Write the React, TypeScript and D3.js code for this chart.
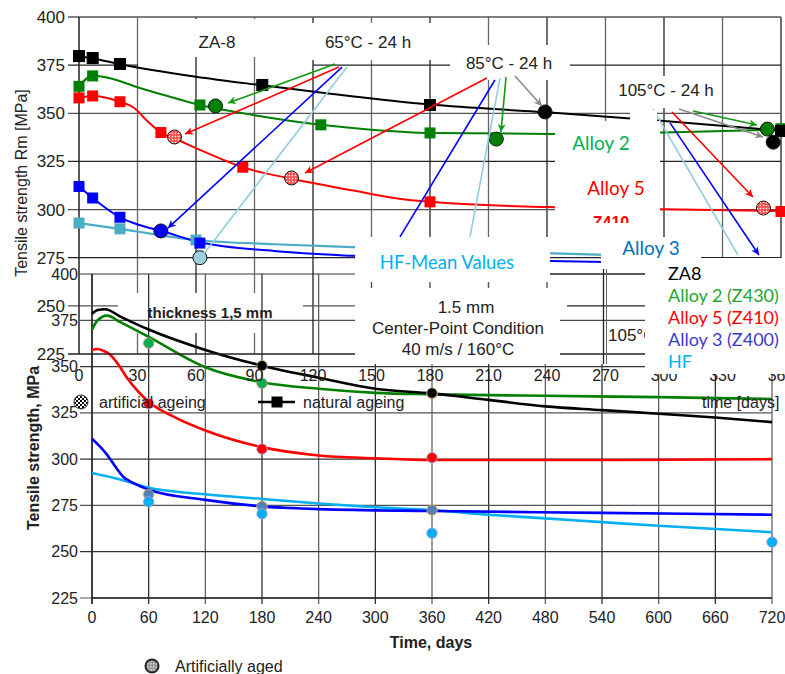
import React from 'react';
import * as d3 from 'd3';

type P = [number, number];

// ---------- Top chart (ZA-8, natural vs artificial ageing) ----------
const topXTicks = [0, 30, 60, 90, 120, 150, 180, 210, 240, 270, 300, 330, 360];
const topYTicks = [225, 250, 275, 300, 325, 350, 375, 400];

const aBlack: P[] = [[0, 379.5], [7, 378.5], [21, 375.5], [60, 369], [94, 364.5], [130, 360], [180, 354.5], [240, 350.5], [300, 346], [360, 341]];
const aGreen: P[] = [[0, 364], [7, 369.5], [35, 362], [62, 354.3], [90, 349], [124, 344], [150, 341.5], [180, 339.8], [240, 339.3], [300, 340], [360, 341.5]];
const aRed: P[] = [[0, 358], [7, 359], [21, 356], [28, 353], [35, 346], [42, 340], [50, 336.5], [62, 331], [84, 322], [109, 316], [140, 310], [165, 305.5], [180, 304], [240, 301.3], [300, 300.2], [360, 299.3]];
const aBlue: P[] = [[0, 312], [7, 306], [21, 296], [31, 292], [42, 289], [62, 283], [100, 278.5], [140, 276], [200, 274], [270, 272.8]];
const aCyan: P[] = [[0, 293], [21, 290], [60, 284.2], [100, 282], [140, 280.5], [200, 278.5], [270, 276.5]];

const aBlackSq: P[] = [[0, 379.7], [7, 378.7], [21, 375.6], [94, 364.7], [180, 354.3], [360, 340.8]];
const aGreenSq: P[] = [[0, 364], [7, 369.4], [62, 354.3], [124, 344], [180, 339.8], [360, 342]];
const aRedSq: P[] = [[0, 358], [7, 359], [21, 356], [42, 340], [84, 322], [180, 304], [360, 299]];
const aBlueSq: P[] = [[0, 312], [7, 306], [21, 296], [62, 282.6]];
const aCyanSq: P[] = [[0, 293], [21, 290], [60, 284.2]];

const aGreenCirc: P[] = [[70, 353.8], [214, 336.6], [353, 341.8]];
const aBlackCirc: P[] = [[239, 350.7], [356, 335]];
const aRedCirc: P[] = [[49, 337.7], [109, 316.4], [351, 300.8]];
const aBlueCirc: P[] = [[42, 288.9]];
const aHFCirc: P[] = [[62, 275]];

// annotation arrows (days, MPa)
const arrows: { c: string; a: P; b: P; head: boolean }[] = [
  { c: 'green', a: [131.3, 375.6], b: [76.4, 355.3], head: true },
  { c: 'red', a: [133.3, 374], b: [54.4, 339.2], head: true },
  { c: 'blue', a: [134.9, 374], b: [45.6, 290.4], head: true },
  { c: 'light', a: [137.4, 374], b: [63.6, 276.4], head: false },
  { c: 'red', a: [209.2, 368.3], b: [115.9, 319], head: true },
  { c: 'blue', a: [213.3, 367.3], b: [164.6, 285.8], head: false },
  { c: 'light', a: [215.9, 368.3], b: [200.5, 285.8], head: false },
  { c: 'green', a: [219, 368.8], b: [216.4, 340.3], head: true },
  { c: 'gray', a: [223.6, 369.4], b: [237.4, 353.8], head: true },
  { c: 'light', a: [294.4, 352.2], b: [337.9, 276.4], head: false },
  { c: 'blue', a: [303.1, 345], b: [348.7, 276.4], head: true },
  { c: 'red', a: [304.1, 350.7], b: [345.6, 306.5], head: true },
  { c: 'gray', a: [307.7, 352.2], b: [350.8, 337.7], head: true },
  { c: 'green', a: [314.9, 351.2], b: [347.7, 343.9], head: true },
];
const arrowColors: Record<string, string> = { green: '#119a11', red: '#ff0000', blue: '#0000ff', light: '#92cddc', gray: '#8c8c8c' };

// ---------- Bottom chart (Time, days 0-720) ----------
const botXTicks = [0, 60, 120, 180, 240, 300, 360, 420, 480, 540, 600, 660, 720];
const botYTicks = [225, 250, 275, 300, 325, 350, 375, 400];

const cBlack: P[] = [[0, 378.5], [6, 380.5], [14, 381], [30, 377], [60, 370], [120, 359], [180, 350.5], [240, 344], [300, 338], [360, 335.5], [420, 332], [480, 328.5], [540, 326.5], [600, 324.5], [660, 322.5], [720, 320]];
const cGreen: P[] = [[0, 370], [6, 375], [16, 377.5], [30, 374], [60, 366], [120, 349.6], [180, 341.5], [240, 338], [300, 335.8], [360, 335], [480, 334.2], [600, 333.5], [720, 332.5]];
const cRed: P[] = [[0, 359], [6, 359.5], [12, 358.5], [19, 356.5], [28, 351], [37, 344], [48, 337], [60, 331], [90, 322], [120, 315.5], [180, 306.5], [240, 302], [300, 300.5], [360, 299.5], [540, 299.5], [720, 300]];
const cBlue: P[] = [[0, 311], [8, 307], [15, 303], [24, 296.5], [33, 290.5], [44, 287], [60, 283.5], [120, 278], [180, 274.5], [240, 273], [360, 272], [540, 271], [720, 270]];
const cCyan: P[] = [[0, 292.5], [30, 289], [60, 284.5], [120, 281], [180, 278.5], [240, 276], [300, 274], [360, 272.5], [420, 270], [480, 268], [540, 266], [600, 264], [720, 260.5]];

const cGreenDots: P[] = [[60, 362.7], [180, 341], [360, 335.5]];
const cBlackDots: P[] = [[180, 350.5], [360, 335.7]];
const cRedDots: P[] = [[60, 330], [180, 305.5], [360, 300.8]];
const cSteelDots: P[] = [[60, 281], [180, 274.5], [360, 272.5]];
const cCyanDots: P[] = [[60, 277], [180, 270.5], [360, 260], [720, 255.2]];

const legendItems = ['ZA8', 'Alloy 2 (Z430)', 'Alloy 5 (Z410)', 'Alloy 3 (Z400)', 'HF'];
const legendColors = ['#000000', '#22a52f', '#ff0000', '#3a3acb', '#00b0f0'];

const W = 785, H = 674;
const ARIAL = "'Liberation Sans', Arial, sans-serif";
const CAL = "Lato, 'Open Sans', sans-serif";

const xA = d3.scaleLinear().domain([0, 360]).range([79, 781]);
const yA = d3.scaleLinear().domain([225, 400]).range([354, 17]);
const xC = d3.scaleLinear().domain([0, 720]).range([92, 772]);
const yC = d3.scaleLinear().domain([225, 400]).range([598, 274]);

const lineA = d3.line<P>().x(d => xA(d[0])).y(d => yA(d[1])).curve(d3.curveMonotoneX);
const lineC = d3.line<P>().x(d => xC(d[0])).y(d => yC(d[1])).curve(d3.curveMonotoneX);

// label boxes of the top chart (pixel layout)
const gapsV = [[140, 19, 172, 38], [312, 23, 163, 37], [450, 45, 120, 35], [612, 76, 108, 32], [118, 293, 185, 40]];
const gapsH = [[138, 60, 175, 10], [450, 45, 120, 35], [612, 76, 108, 32], [118, 293, 185, 40]];

export default function App() {
  const sq = (pts: P[], fill: string, key: string) =>
    pts.map((d, i) => (
      <rect key={key + i} x={xA(d[0]) - 5.5} y={yA(d[1]) - 5.5} width={11} height={11} fill={fill} stroke={fill === '#000000' ? '#000' : 'none'} />
    ));
  const circ = (pts: P[], fill: string, key: string, r = 7) =>
    pts.map((d, i) => <circle key={key + i} cx={xA(d[0])} cy={yA(d[1])} r={r} fill={fill} stroke="#111" strokeWidth={1} />);
  const dots = (pts: P[], fill: string, stroke: string, key: string) =>
    pts.map((d, i) => <circle key={key + i} cx={xC(d[0])} cy={yC(d[1])} r={5.2} fill={fill} stroke={stroke} strokeWidth={0.9} />);

  return (
    <svg width={W} height={H} style={{ position: 'absolute', left: 0, top: 0, background: '#fff' }} fontFamily={ARIAL}>
      <defs>
        <pattern id="dotRed" width="3" height="3" patternUnits="userSpaceOnUse">
          <rect width="3" height="3" fill="#ff5050" />
          <circle cx="1.5" cy="1.5" r="0.8" fill="#fff" />
        </pattern>
        <pattern id="checker" width="4" height="4" patternUnits="userSpaceOnUse">
          <rect width="4" height="4" fill="#fff" />
          <rect width="2" height="2" fill="#000" />
          <rect x="2" y="2" width="2" height="2" fill="#000" />
        </pattern>
        <pattern id="grayTex" width="3" height="3" patternUnits="userSpaceOnUse">
          <rect width="3" height="3" fill="#9a9a9a" />
          <rect width="1.5" height="1.5" fill="#d0d0d0" />
        </pattern>
        {Object.entries(arrowColors).map(([k, c]) => (
          <marker key={k} id={'ah-' + k} viewBox="0 0 10 10" refX="10" refY="5" markerWidth="9" markerHeight="8" markerUnits="userSpaceOnUse" orient="auto">
            <path d="M0,0 L10,5 L0,10 L3,5 z" fill={c} />
          </marker>
        ))}
        <mask id="mV" maskUnits="userSpaceOnUse" x="0" y="0" width={W} height={H}>
          <rect width={W} height={H} fill="#fff" />
          {gapsV.map((g, i) => <rect key={i} x={g[0]} y={g[1]} width={g[2]} height={g[3]} fill="#000" />)}
        </mask>
        <mask id="mH" maskUnits="userSpaceOnUse" x="0" y="0" width={W} height={H}>
          <rect width={W} height={H} fill="#fff" />
          {gapsH.map((g, i) => <rect key={i} x={g[0]} y={g[1]} width={g[2]} height={g[3]} fill="#000" />)}
        </mask>
        <clipPath id="clipZ410"><rect x={555} y={117} width={105} height={106} /></clipPath>
        <clipPath id="clipZA8"><rect x={645} y={266} width={140} height={110} /></clipPath>
        <clipPath id="clipFrag"><rect x={550} y={263} width={95} height={101} /></clipPath>
      </defs>

      {/* ================= bottom chart ================= */}
      <g>
        {botXTicks.map(t => (
          <line key={'cv' + t} x1={xC(t)} x2={xC(t)} y1={yC(400)} y2={yC(225) + 6} stroke={t % 120 === 0 ? '#555' : '#222'} strokeWidth={1.2} />
        ))}
        {botYTicks.map(t => (
          <line key={'ch' + t} x1={xC(0) - 12} x2={xC(720)} y1={yC(t)} y2={yC(t)} stroke={t % 50 === 0 ? '#333' : '#555'} strokeWidth={1.2} />
        ))}
        <line x1={xC(0)} x2={xC(0)} y1={yC(400)} y2={yC(225) + 6} stroke="#222" strokeWidth={1.5} />
        <line x1={xC(0)} x2={xC(720)} y1={yC(225)} y2={yC(225)} stroke="#222" strokeWidth={1.5} />
        {botYTicks.map(t => (
          <text key={'cyl' + t} x={78} y={yC(t) + 5.5} fontSize={16} textAnchor="end" fill="#222">{t}</text>
        ))}
        {botXTicks.map(t => (
          <text key={'cxl' + t} x={xC(t)} y={623} fontSize={16} textAnchor="middle" fill="#222">{t}</text>
        ))}
        <path d={lineC(cCyan) || ''} fill="none" stroke="#00b0f0" strokeWidth={2.6} />
        <path d={lineC(cBlue) || ''} fill="none" stroke="#0000ff" strokeWidth={2.6} />
        <path d={lineC(cRed) || ''} fill="none" stroke="#ff0000" strokeWidth={2.6} />
        <path d={lineC(cGreen) || ''} fill="none" stroke="#008000" strokeWidth={2.6} />
        <path d={lineC(cBlack) || ''} fill="none" stroke="#000000" strokeWidth={2.6} />
        {dots(cGreenDots, '#00b050', '#e08a8a', 'gd')}
        {dots(cBlackDots, '#000000', '#b0b070', 'bd')}
        {dots(cRedDots, '#ff0000', '#a0a0e0', 'rd')}
        {dots(cSteelDots, '#4f81bd', '#e8a040', 'sd')}
        {dots(cCyanDots, '#00b0f0', '#a0a0e0', 'cd')}
        <text transform="translate(39,448) rotate(-90)" fontSize={16} fontWeight="bold" textAnchor="middle" fill="#222">Tensile strength, MPa</text>
        <text x={431} y={648} fontSize={16} fontWeight="bold" textAnchor="middle" fill="#222">Time, days</text>
        <circle cx={152} cy={666} r={6.5} fill="url(#grayTex)" stroke="#222" strokeWidth={2} />
        <text x={175} y={672} fontSize={16} fill="#222">Artificially aged</text>
      </g>

      {/* ================= top chart ================= */}
      <g>
        <g mask="url(#mV)">
          {topXTicks.filter(t => t > 0).map(t => (
            <line key={'av' + t} x1={xA(t)} x2={xA(t)} y1={yA(400)} y2={yA(225)} stroke={t % 60 === 0 ? '#222' : '#666'} strokeWidth={1.3} />
          ))}
        </g>
        <g mask="url(#mH)">
          {topYTicks.map(t => (
            <line key={'ah' + t} x1={68} x2={xA(360)} y1={yA(t)} y2={yA(t)} stroke={t % 50 === 0 ? '#555' : '#222'} strokeWidth={1.3} />
          ))}
        </g>
        <line x1={xA(0)} x2={xA(0)} y1={yA(400)} y2={yA(225)} stroke="#222" strokeWidth={1.5} />
        {topYTicks.map(t => (
          <text key={'ayl' + t} x={65} y={yA(t) + 6} fontSize={17} textAnchor="end" fill="#222">{t}</text>
        ))}
        {topXTicks.map(t => (
          <text key={'axl' + t} x={xA(t)} y={381} fontSize={16} textAnchor="middle" fill="#222">{t}</text>
        ))}
        <text transform="translate(27,183) rotate(-90)" fontSize={16} textAnchor="middle" fill="#222">Tensile strength Rm [MPa]</text>
        <text x={217} y={48} fontSize={17} textAnchor="middle" fill="#222">ZA-8</text>
        <text x={368} y={48} fontSize={17} textAnchor="middle" fill="#222">65°C - 24 h</text>
        <text x={509} y={69} fontSize={17} textAnchor="middle" fill="#222">85°C - 24 h</text>
        <text x={666} y={96} fontSize={17} textAnchor="middle" fill="#222">105°C - 24 h</text>

        <path d={lineA(aCyan) || ''} fill="none" stroke="#4bacc6" strokeWidth={2.2} />
        <path d={lineA(aBlue) || ''} fill="none" stroke="#0000ff" strokeWidth={2} />
        <path d={lineA(aRed) || ''} fill="none" stroke="#ff0000" strokeWidth={2} />
        <path d={lineA(aGreen) || ''} fill="none" stroke="#008000" strokeWidth={2} />
        <path d={lineA(aBlack) || ''} fill="none" stroke="#000000" strokeWidth={2} />
        {sq(aCyanSq, '#4bacc6', 'qc')}
        {sq(aBlueSq, '#0000ff', 'qb')}
        {sq(aRedSq, '#ff0000', 'qr')}
        {sq(aGreenSq, '#008000', 'qg')}
        {sq(aBlackSq, '#000000', 'qk')}
        {circ(aGreenCirc, '#008000', 'cg')}
        {circ(aBlackCirc, '#000000', 'ck')}
        {circ(aRedCirc, 'url(#dotRed)', 'cr')}
        {circ(aBlueCirc, '#0000ff', 'cb')}
        {circ(aHFCirc, '#9fd0e0', 'ch')}

        {arrows.map((a, i) => (
          <line key={'ar' + i} x1={xA(a.a[0])} y1={yA(a.a[1])} x2={xA(a.b[0])} y2={yA(a.b[1])} stroke={arrowColors[a.c]} strokeWidth={1.6}
            markerEnd={a.head ? `url(#ah-${a.c})` : undefined} />
        ))}

        <text x={210} y={318} fontSize={15} fontWeight="bold" textAnchor="middle" fill="#222">thickness 1,5 mm</text>
        <circle cx={81} cy={402} r={7} fill="url(#checker)" stroke="#333" strokeWidth={1} />
        <text x={99} y={408} fontSize={16} fill="#222">artificial ageing</text>
        <line x1={258} x2={295} y1={402} y2={402} stroke="#000" strokeWidth={2.5} />
        <rect x={271.5} y={396.5} width={11} height={11} fill="#000" />
        <text x={303} y={408} fontSize={16} fill="#222">natural ageing</text>
        <text x={702} y={408} fontSize={16} fill="#222">time [days]</text>
      </g>

      {/* ================= pasted boxes ================= */}
      <g>
        <rect x={555} y={121} width={105} height={116} fill="#fff" />
        <rect x={630} y={110} width={27} height={14} fill="#fff" />
        <text x={601} y={150} fontSize={19} fontFamily={CAL} textAnchor="middle" fill="#00b050">Alloy 2</text>
        <text x={616} y={195} fontSize={19} fontFamily={CAL} textAnchor="middle" fill="#ff0000">Alloy 5</text>
        <g clipPath="url(#clipZ410)">
          <text x={611} y={228} fontSize={16} fontWeight="bold" textAnchor="middle" fill="#ff0000">Z410</text>
        </g>

        <rect x={601} y={237} width={100} height={28} fill="#fff" />
        <text x={651} y={255} fontSize={19} fontFamily={CAL} textAnchor="middle" fill="#0070c0">Alloy 3</text>

        <rect x={355} y={237} width={195} height={127} fill="#fff" />
        <text x={447} y={269} fontSize={18.5} fontFamily={CAL} textAnchor="middle" fill="#00b0f0">HF-Mean Values</text>
        {[150, 180, 210, 240].map(t => (
          <line key={'stub' + t} x1={xA(t)} x2={xA(t)} y1={282} y2={288} stroke="#555" strokeWidth={1.4} />
        ))}
        <text x={466} y={313} fontSize={17} textAnchor="middle" fill="#222">1.5 mm</text>
        <text x={458} y={334} fontSize={17} textAnchor="middle" fill="#222">Center-Point Condition</text>
        <text x={458} y={355} fontSize={17} textAnchor="middle" fill="#222">40 m/s / 160°C</text>

        <rect x={550} y={263} width={95} height={101} fill="#fff" />
        <g clipPath="url(#clipFrag)">
          <line x1={550} x2={645} y1={yC(400)} y2={yC(400)} stroke="#222" strokeWidth={1.3} />
          <line x1={560} x2={645} y1={yC(375)} y2={yC(375)} stroke="#444" strokeWidth={1.3} />
          <line x1={567} x2={645} y1={yA(250)} y2={yA(250)} stroke="#222" strokeWidth={1.3} />
          <line x1={560} x2={645} y1={yA(225)} y2={yA(225)} stroke="#222" strokeWidth={1.3} />
          <line x1={xA(270) - 2} x2={xA(270) - 2} y1={269} y2={364} stroke="#222" strokeWidth={1.3} />
          <line x1={xA(270) + 1} x2={xA(270) + 1} y1={269} y2={364} stroke="#666" strokeWidth={1} />
          <text x={608} y={341} fontSize={17} fill="#222">105°C</text>
        </g>

        <rect x={645} y={258} width={140} height={116} fill="#fff" />
        <g clipPath="url(#clipZA8)">
          {legendItems.map((t, i) => (
            <text key={t} x={668} y={280 + i * 22} fontSize={18} fontFamily={CAL} fill={legendColors[i]}>{t}</text>
          ))}
        </g>
      </g>
    </svg>
  );
}
